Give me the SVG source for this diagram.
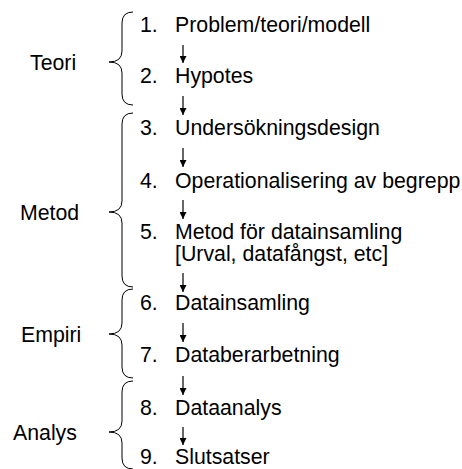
<svg xmlns="http://www.w3.org/2000/svg" width="462" height="469" viewBox="0 0 462 469">
<style>
text{font-family:"Liberation Sans",Arial,sans-serif;font-size:21.3px;fill:#000}
.br{fill:none;stroke:#000;stroke-width:1}
.ar{stroke:#000;stroke-width:1.2;fill:none}
</style>
<defs>
<marker id="ah" viewBox="0 0 10 10" refX="10" refY="5" markerWidth="8" markerHeight="7" markerUnits="userSpaceOnUse" orient="auto">
<path d="M0,0 L10,5 L0,10 Z" fill="#000"/>
</marker>
</defs>
<rect width="462" height="469" fill="#fff"/>
<g id="braces">
<g id="teori"><path class="br" d="M133,12 Q122,12 122,23 L122,51 Q122,62 109,62 Q122,62 122,73 L122,94 Q122,105 133,105"/><text x="30" y="70">Teori</text></g>
<g id="metod"><path class="br" d="M133,113 Q122,113 122,124 L122,201 Q122,212 109,212 Q122,212 122,223 L122,276 Q122,287 133,287"/><text x="20" y="220">Metod</text></g>
<g id="empiri"><path class="br" d="M133,289 Q122,289 122,300 L122,323 Q122,334 109,334 Q122,334 122,345 L122,367 Q122,378 133,378"/><text x="21" y="342">Empiri</text></g>
<g id="analys"><path class="br" d="M133,381 Q122,381 122,392 L122,421 Q122,432 109,432 Q122,432 122,443 L122,458 Q122,469 133,469"/><text x="13" y="440">Analys</text></g>
</g>
<g id="s1"><text x="140" y="32">1.</text><text x="175" y="32">Problem/teori/modell</text></g>
<g id="s2"><text x="140" y="83">2.</text><text x="175" y="83">Hypotes</text></g>
<g id="s3"><text x="140" y="135">3.</text><text x="175" y="135">Undersökningsdesign</text></g>
<g id="s4"><text x="140" y="188">4.</text><text x="175" y="188">Operationalisering av begrepp</text></g>
<g id="s5"><text x="140" y="239">5.</text><text x="175" y="239">Metod för datainsamling</text><text x="175" y="261">[Urval, datafångst, etc]</text></g>
<g id="s6"><text x="140" y="310">6.</text><text x="175" y="310">Datainsamling</text></g>
<g id="s7"><text x="140" y="362">7.</text><text x="175" y="362">Databerarbetning</text></g>
<g id="s8"><text x="140" y="415">8.</text><text x="175" y="415">Dataanalys</text></g>
<g id="s9"><text x="140" y="464">9.</text><text x="175" y="464">Slutsatser</text></g>
<g id="connectors">
<line class="ar" x1="183" y1="45" x2="183" y2="63" marker-end="url(#ah)"/>
<line class="ar" x1="183" y1="96" x2="183" y2="115" marker-end="url(#ah)"/>
<line class="ar" x1="183" y1="148" x2="183" y2="167" marker-end="url(#ah)"/>
<line class="ar" x1="183" y1="200" x2="183" y2="219" marker-end="url(#ah)"/>
<line class="ar" x1="183" y1="273" x2="183" y2="292" marker-end="url(#ah)"/>
<line class="ar" x1="183" y1="323" x2="183" y2="342" marker-end="url(#ah)"/>
<line class="ar" x1="183" y1="376" x2="183" y2="395" marker-end="url(#ah)"/>
<line class="ar" x1="183" y1="427" x2="183" y2="445" marker-end="url(#ah)"/>
</g>
</svg>
